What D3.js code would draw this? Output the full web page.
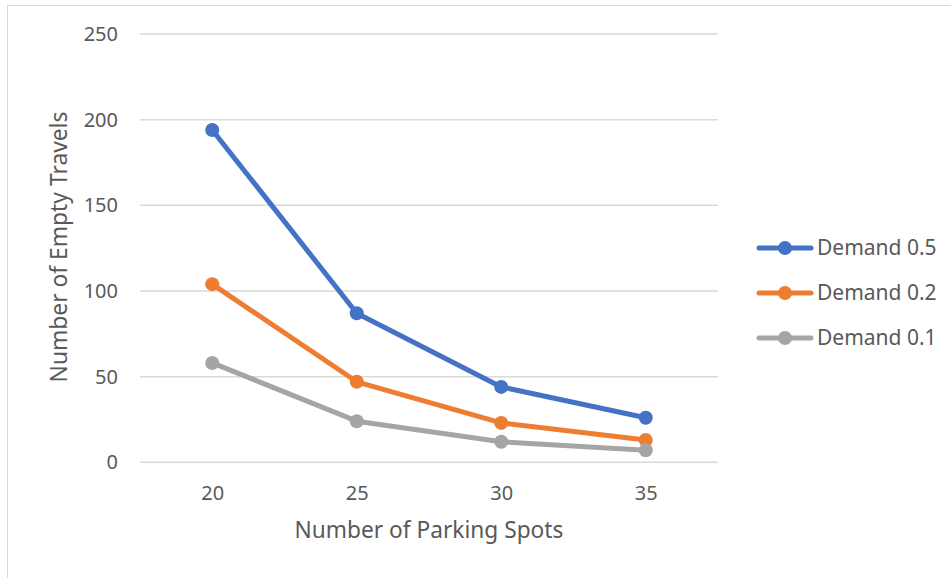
<!DOCTYPE html>
<html>
<head>
<meta charset="utf-8">
<script src="https://cdn.jsdelivr.net/npm/d3@7"></script>
<style>
  html, body { margin: 0; padding: 0; background: #fff; }
  svg { display: block; }
  text { font-family: "Noto Sans", "Open Sans", sans-serif; fill: #595959; }
</style>
</head>
<body>
<svg id="chart" width="951" height="578"></svg>
<script>
// Empty travels by number of parking spots, for three demand levels
const parkingSpots = ["20", "25", "30", "35"];
const demand05 = [194, 87, 44, 26];
const demand02 = [104, 47, 23, 13];
const demand01 = [58, 24, 12, 7];
const seriesNames = ["Demand 0.5", "Demand 0.2", "Demand 0.1"];
const seriesColors = ["#4472C4", "#ED7D31", "#A5A5A5"];
const yTicks = [0, 50, 100, 150, 200, 250];

const series = [demand05, demand02, demand01].map((values, i) => ({
  name: seriesNames[i], color: seriesColors[i], values
}));

const svg = d3.select("#chart");

// outer frame
svg.append("rect")
  .attr("x", 7.5).attr("y", 5.5)
  .attr("width", 1000).attr("height", 700)
  .attr("fill", "none").attr("stroke", "#D9D9D9").attr("stroke-width", 1);

const plot = { left: 140, right: 718, top: 34, bottom: 462.3 };

const x = d3.scalePoint().domain(parkingSpots)
  .range([plot.left, plot.right]).padding(0.5);
const y = d3.scaleLinear().domain([0, 250]).range([plot.bottom, plot.top]);

// horizontal gridlines
svg.append("g")
  .selectAll("line").data(yTicks).join("line")
  .attr("x1", plot.left).attr("x2", plot.right)
  .attr("y1", d => y(d)).attr("y2", d => y(d))
  .attr("stroke", "#D9D9D9").attr("stroke-width", 1.5);

// y axis labels
const yAxis = svg.append("g")
  .attr("transform", `translate(${plot.left - 22},0)`)
  .call(d3.axisLeft(y).tickValues(yTicks).tickSize(0).tickPadding(0));
yAxis.select(".domain").remove();
yAxis.selectAll("text")
  .attr("font-size", 20).attr("fill", "#595959")
  .style("font-family", "'Noto Sans', sans-serif");

// x axis labels
const xAxis = svg.append("g")
  .attr("transform", `translate(0,${plot.bottom + 20})`)
  .call(d3.axisBottom(x).tickSize(0).tickPadding(0));
xAxis.select(".domain").remove();
xAxis.selectAll("text")
  .attr("font-size", 20).attr("fill", "#595959")
  .attr("dy", "0.9em")
  .style("font-family", "'Noto Sans', sans-serif");

// axis titles
svg.append("text")
  .attr("x", 429).attr("y", 538)
  .attr("text-anchor", "middle").attr("font-size", 22.7)
  .text("Number of Parking Spots");

svg.append("text")
  .attr("transform", "translate(67,247) rotate(-90)")
  .attr("text-anchor", "middle").attr("font-size", 22.8)
  .text("Number of Empty Travels");

// lines and markers
const line = d3.line()
  .x((d, i) => x(parkingSpots[i]))
  .y(d => y(d));

const g = svg.append("g");
series.forEach(s => {
  g.append("path")
    .datum(s.values)
    .attr("d", line)
    .attr("fill", "none")
    .attr("stroke", s.color)
    .attr("stroke-width", 5)
    .attr("stroke-linejoin", "round")
    .attr("stroke-linecap", "round");
});
series.forEach(s => {
  g.selectAll(null).data(s.values).join("circle")
    .attr("cx", (d, i) => x(parkingSpots[i]))
    .attr("cy", d => y(d))
    .attr("r", 7)
    .attr("fill", s.color);
});

// legend
const legend = svg.append("g").attr("transform", "translate(757,248)");
series.forEach((s, i) => {
  const row = legend.append("g").attr("transform", `translate(0,${i * 45})`);
  row.append("line")
    .attr("x1", 2).attr("x2", 54).attr("y1", 0).attr("y2", 0)
    .attr("stroke", s.color).attr("stroke-width", 5).attr("stroke-linecap", "round");
  row.append("circle").attr("cx", 28).attr("cy", 0).attr("r", 7).attr("fill", s.color);
  row.append("text")
    .attr("x", 60).attr("y", 0).attr("dy", "0.35em")
    .attr("font-size", 21)
    .text(s.name);
});
</script>
</body>
</html>
